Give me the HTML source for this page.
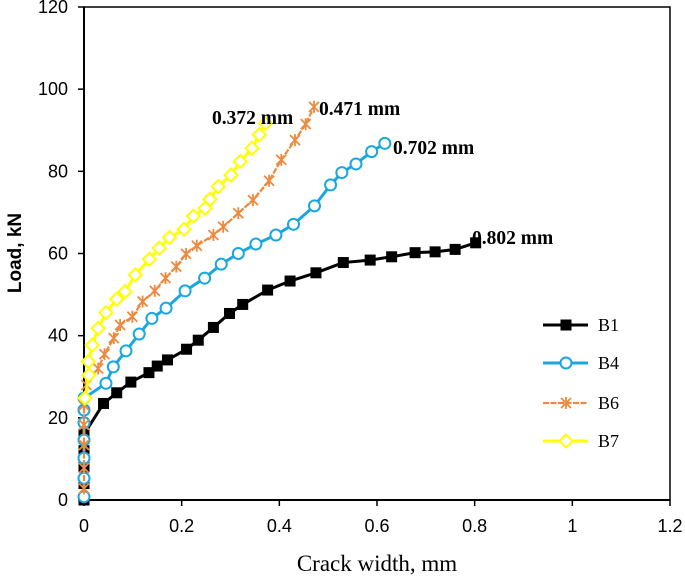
<!DOCTYPE html>
<html><head><meta charset="utf-8"><style>
body{margin:0;background:#fff;}
svg{display:block;}
text{font-family:"Liberation Sans",sans-serif;}
.serif{font-family:"Liberation Serif",serif;}
</style></head><body>
<svg id="chart" width="685" height="578" viewBox="0 0 685 578" xmlns="http://www.w3.org/2000/svg"></svg>
<script>
const xTicks=[0,0.2,0.4,0.6,0.8,1,1.2];
const xTickLabels=["0","0.2","0.4","0.6","0.8","1","1.2"];
const yTicks=[0,20,40,60,80,100,120];
const yTickLabels=["0","20","40","60","80","100","120"];
const seriesNames=["B1","B4","B6","B7"];
const b1X=[0,0,0,0,0,0.04,0.067,0.096,0.133,0.15,0.171,0.21,0.234,0.265,0.298,0.325,0.376,0.422,0.475,0.531,0.586,0.63,0.678,0.719,0.76,0.802];
const b1Y=[0,4,8,12,16,23.5,26.1,28.7,31,32.6,34.1,36.7,38.9,42,45.4,47.6,51.1,53.3,55.3,57.8,58.4,59.2,60.2,60.4,61,62.6];
const b4X=[0,0,0,0,0,0,0,0.045,0.06,0.086,0.113,0.139,0.168,0.207,0.247,0.281,0.316,0.352,0.393,0.429,0.472,0.505,0.528,0.557,0.589,0.616];
const b4Y=[0.8,5.3,10.2,14.6,18.8,21.9,24.8,28.4,32.4,36.3,40.4,44.2,46.7,50.9,54,57.4,60,62.3,64.5,67.1,71.6,76.7,79.7,81.8,84.8,86.8];
const b6X=[0,0,0,0,0,0.005,0.029,0.042,0.061,0.074,0.099,0.12,0.145,0.167,0.189,0.209,0.231,0.265,0.285,0.316,0.346,0.379,0.404,0.432,0.454,0.471];
const b6Y=[2.8,7.8,13.4,18.3,23.1,28,32,35.5,39.4,42.6,44.6,48.3,50.9,54,56.8,59.9,61.9,64.5,66.5,69.8,73,77.7,82.8,87.6,91.5,95.7];
const b7X=[0.002,0.01,0.009,0.017,0.029,0.045,0.067,0.084,0.105,0.134,0.154,0.175,0.205,0.224,0.248,0.258,0.275,0.301,0.32,0.344,0.359,0.372];
const b7Y=[24.8,30.4,33.7,37.7,41.8,45.6,48.9,50.7,54.8,58.6,61.3,63.9,65.9,69.1,71,73.2,76.3,79.1,82.4,85.6,88.9,91.7];
const endLabels=["0.802 mm","0.702 mm","0.471 mm","0.372 mm"];

const NS="http://www.w3.org/2000/svg";
const svg=document.getElementById('chart');
const L=84,R=670,T=7,B=500;
const sx=v=>L+(v/1.2)*(R-L);
const sy=v=>B-(v/120)*(B-T);
function mk(tag,attrs,parent){const e=document.createElementNS(NS,tag);for(const k in attrs)e.setAttribute(k,attrs[k]);(parent||svg).appendChild(e);return e;}

let fr=mk('rect',{x:L,y:T,width:R-L,height:B-T,fill:'none',stroke:'#000','stroke-width':1.5});


let ax=mk('line',{x1:L,y1:B,x2:R,y2:B,stroke:'#000','stroke-width':2});


let ay=mk('line',{x1:L,y1:T,x2:L,y2:B,stroke:'#000','stroke-width':2});



xTicks.forEach((v,i)=>{
  mk('line',{x1:sx(v),y1:B,x2:sx(v),y2:B+6,stroke:'#000','stroke-width':1.5});
  let t=mk('text',{x:sx(v),y:B+32,'text-anchor':'middle','font-size':18});
  t.textContent=xTickLabels[i];
  
  
});
yTicks.forEach((v,i)=>{
  mk('line',{x1:L-6,y1:sy(v),x2:L,y2:sy(v),stroke:'#000','stroke-width':1.5});
  let t=mk('text',{x:L-16,y:sy(v)+6,'text-anchor':'end','font-size':18});
  t.textContent=yTickLabels[i];
  
  
});
let xt=mk('text',{x:377,y:571,'text-anchor':'middle','font-size':23,class:'serif'});
xt.textContent='Crack width, mm';


let yt=mk('text',{x:0,y:0,'text-anchor':'middle','font-size':19,'font-weight':'bold',transform:'translate(21,253) rotate(-90)'});
yt.textContent='Load, kN';



function marker(type,x,y,g){
  if(type==='sq')mk('rect',{x:x-5.5,y:y-5.5,width:11,height:11,fill:'#000'},g);
  else if(type==='ci')mk('circle',{cx:x,cy:y,r:5.5,fill:'#fff',stroke:'#1aa7e0','stroke-width':2},g);
  else if(type==='di')mk('path',{d:`M${x} ${y-6.5}L${x+6.5} ${y}L${x} ${y+6.5}L${x-6.5} ${y}Z`,fill:'#fff',stroke:'#ffff00','stroke-width':2},g);
  else{mk('path',{d:`M${x-5} ${y-5}L${x+5} ${y+5}M${x-5} ${y+5}L${x+5} ${y-5}M${x} ${y-6}L${x} ${y+6}`,stroke:'#ec8a40','stroke-width':1.8,fill:'none'},g);}
}
const series=[
 {xs:b1X,ys:b1Y,c:'#000',w:3,m:'sq',dash:''},
 {xs:b4X,ys:b4Y,c:'#1aa7e0',w:3,m:'ci',dash:''},
 {xs:b6X,ys:b6Y,c:'#ec8a40',w:2.2,m:'as',dash:'6 1.5'},
 {xs:b7X,ys:b7Y,c:'#ffff00',w:3,m:'di',dash:''}
];
const lblPos=[[472,244],[393,154],[319,115],[212,124]];
series.forEach((s,i)=>{
  const g=mk('g',{});
  
  
  const pts=s.xs.map((x,j)=>sx(x)+','+sy(s.ys[j])).join(' ');
  mk('polyline',{points:pts,fill:'none',stroke:s.c,'stroke-width':s.w,'stroke-dasharray':s.dash},g);
  s.xs.forEach((x,j)=>marker(s.m,sx(x),sy(s.ys[j]),g));
  const t=mk('text',{x:lblPos[i][0],y:lblPos[i][1],'font-size':19.5,'font-weight':'bold',class:'serif'});
  t.textContent=endLabels[i];
  
  
  const ly=[325,363,403,441][i];
  const lg=mk('g',{});
  
  
  mk('line',{x1:543,y1:ly,x2:588,y2:ly,stroke:s.c,'stroke-width':s.w,'stroke-dasharray':s.dash},lg);
  marker(s.m,566,ly,lg);
  const lt=mk('text',{x:598,y:ly+6,'font-size':18,class:'serif'},lg);
  lt.textContent=seriesNames[i];
});
</script>
</body></html>
